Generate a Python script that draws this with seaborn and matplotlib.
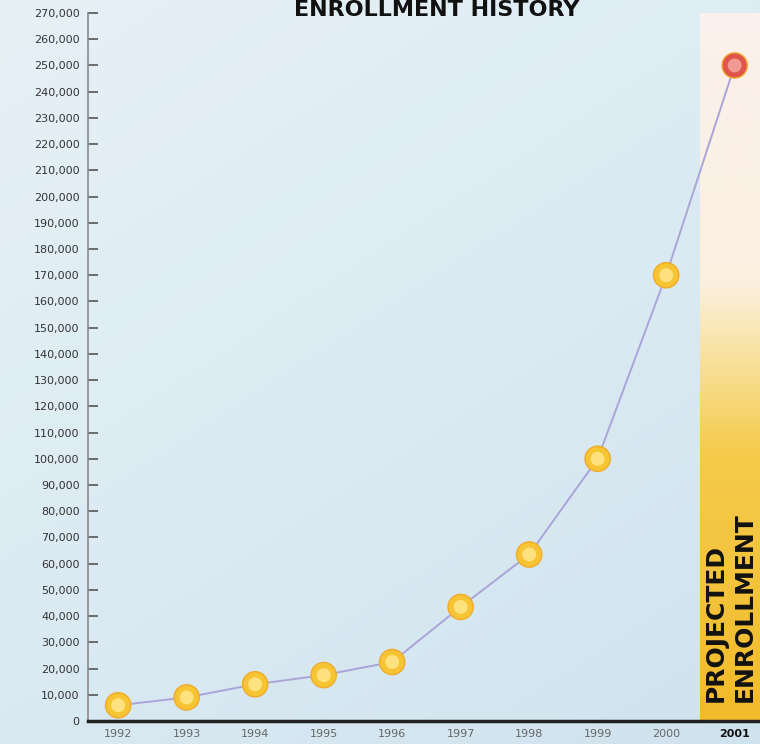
import numpy as np
import pandas as pd
import matplotlib
matplotlib.use("Agg")
import matplotlib.pyplot as plt
import seaborn as sns
from matplotlib.colors import LinearSegmentedColormap
from matplotlib.ticker import FuncFormatter, MultipleLocator

# ---- data ----
years = [1992, 1993, 1994, 1995, 1996, 1997, 1998, 1999, 2000, 2001]
enrollment = [6000, 9000, 14000, 17500, 22500, 43500, 63500, 100000, 170000, 250000]
status = ["Actual"] * 9 + ["Projected"]
year_labels = ["1992", "1993", "1994", "1995", "1996", "1997", "1998", "1999", "2000", "2001"]
title_text = "ENROLLMENT HISTORY"
band_lines = ["PROJECTED", "ENROLLMENT"]

df = pd.DataFrame({"year": years, "enrollment": enrollment, "status": status})

sns.set_theme(style="white")
plt.rcParams["font.family"] = ["DejaVu Sans"]

W, H = 760, 744
fig = plt.figure(figsize=(W / 100, H / 100), dpi=100)

# background (light watery blue)
bg = fig.add_axes([0, 0, 1, 1], zorder=0)
bg_cmap = LinearSegmentedColormap.from_list("bg", ["#cfe3ee", "#dcebf3", "#e6f1f6"])
yy, xx = np.mgrid[0:1:200j, 0:1:200j]
bg.imshow(0.6 * yy + 0.4 * (1 - xx), cmap=bg_cmap, aspect="auto", extent=[0, 1, 0, 1], origin="lower")
bg.axis("off")

ax = fig.add_axes([88 / W, 23 / H, 1 - 88 / W, (721 - 13) / H], zorder=1)
ax.patch.set_alpha(0)
xmin, xmax = 1991.56, 2001.37
ax.set_xlim(xmin, xmax)
ax.set_ylim(0, 270000)

# projected band
band_cmap = LinearSegmentedColormap.from_list(
    "band", [(0, "#f1bb2a"), (0.38, "#f5cb4c"), (0.55, "#f9e7b4"), (0.62, "#fbf0e0"), (1, "#fcf0ec")])
ax.imshow(np.linspace(0, 1, 256).reshape(-1, 1), cmap=band_cmap, aspect="auto",
          extent=[2000.5, xmax, 0, 270000], origin="lower", zorder=1)

# line + markers
sns.lineplot(data=df, x="year", y="enrollment", color="#aaa4d8", lw=1.4, ax=ax, zorder=2, legend=False)
sns.scatterplot(data=df, x="year", y="enrollment", hue="status",
                palette={"Actual": "#f7c534", "Projected": "#e0544c"},
                s=330, edgecolor="#f0ab2a", linewidth=1.0, ax=ax, zorder=3, legend=False)
sns.scatterplot(data=df, x="year", y="enrollment", hue="status",
                palette={"Actual": "#fde27f", "Projected": "#f19a92"},
                s=100, linewidth=0, ax=ax, zorder=4, legend=False)

# axes styling
ax.yaxis.set_major_locator(MultipleLocator(10000))
ax.yaxis.set_major_formatter(FuncFormatter(lambda v, p: f"{int(v):,}"))
ax.set_xticks(years)
ax.set_xticklabels(year_labels)
ax.tick_params(axis="y", direction="in", length=7, width=1.2, color="#555555",
               labelsize=8, labelcolor="#333333", pad=6, left=True)
ax.tick_params(axis="x", length=0, labelsize=8, labelcolor="#666666", pad=6)
for lbl in ax.get_xticklabels():
    if lbl.get_text() == "2001":
        lbl.set_color("#111111")
        lbl.set_fontweight("bold")
ax.set_xlabel("")
ax.set_ylabel("")
for s in ["top", "right"]:
    ax.spines[s].set_visible(False)
ax.spines["left"].set_color("#8a8a8a")
ax.spines["left"].set_linewidth(1.2)
ax.spines["left"].set_linestyle((0, (3, 1)))
ax.spines["bottom"].set_color("#222222")
ax.spines["bottom"].set_linewidth(2.5)

# band text
fig.text(716 / W, (H - 702) / H, band_lines[0], rotation=90, ha="center", va="bottom",
         fontsize=18, fontweight="bold", color="#111111")
fig.text(745 / W, (H - 702) / H, band_lines[1], rotation=90, ha="center", va="bottom",
         fontsize=18, fontweight="bold", color="#111111")

# title
fig.text(437 / W, 1.0, title_text, ha="center", va="top", fontsize=16,
         fontweight="bold", color="#111111")

fig.savefig("out.png", dpi=100)
